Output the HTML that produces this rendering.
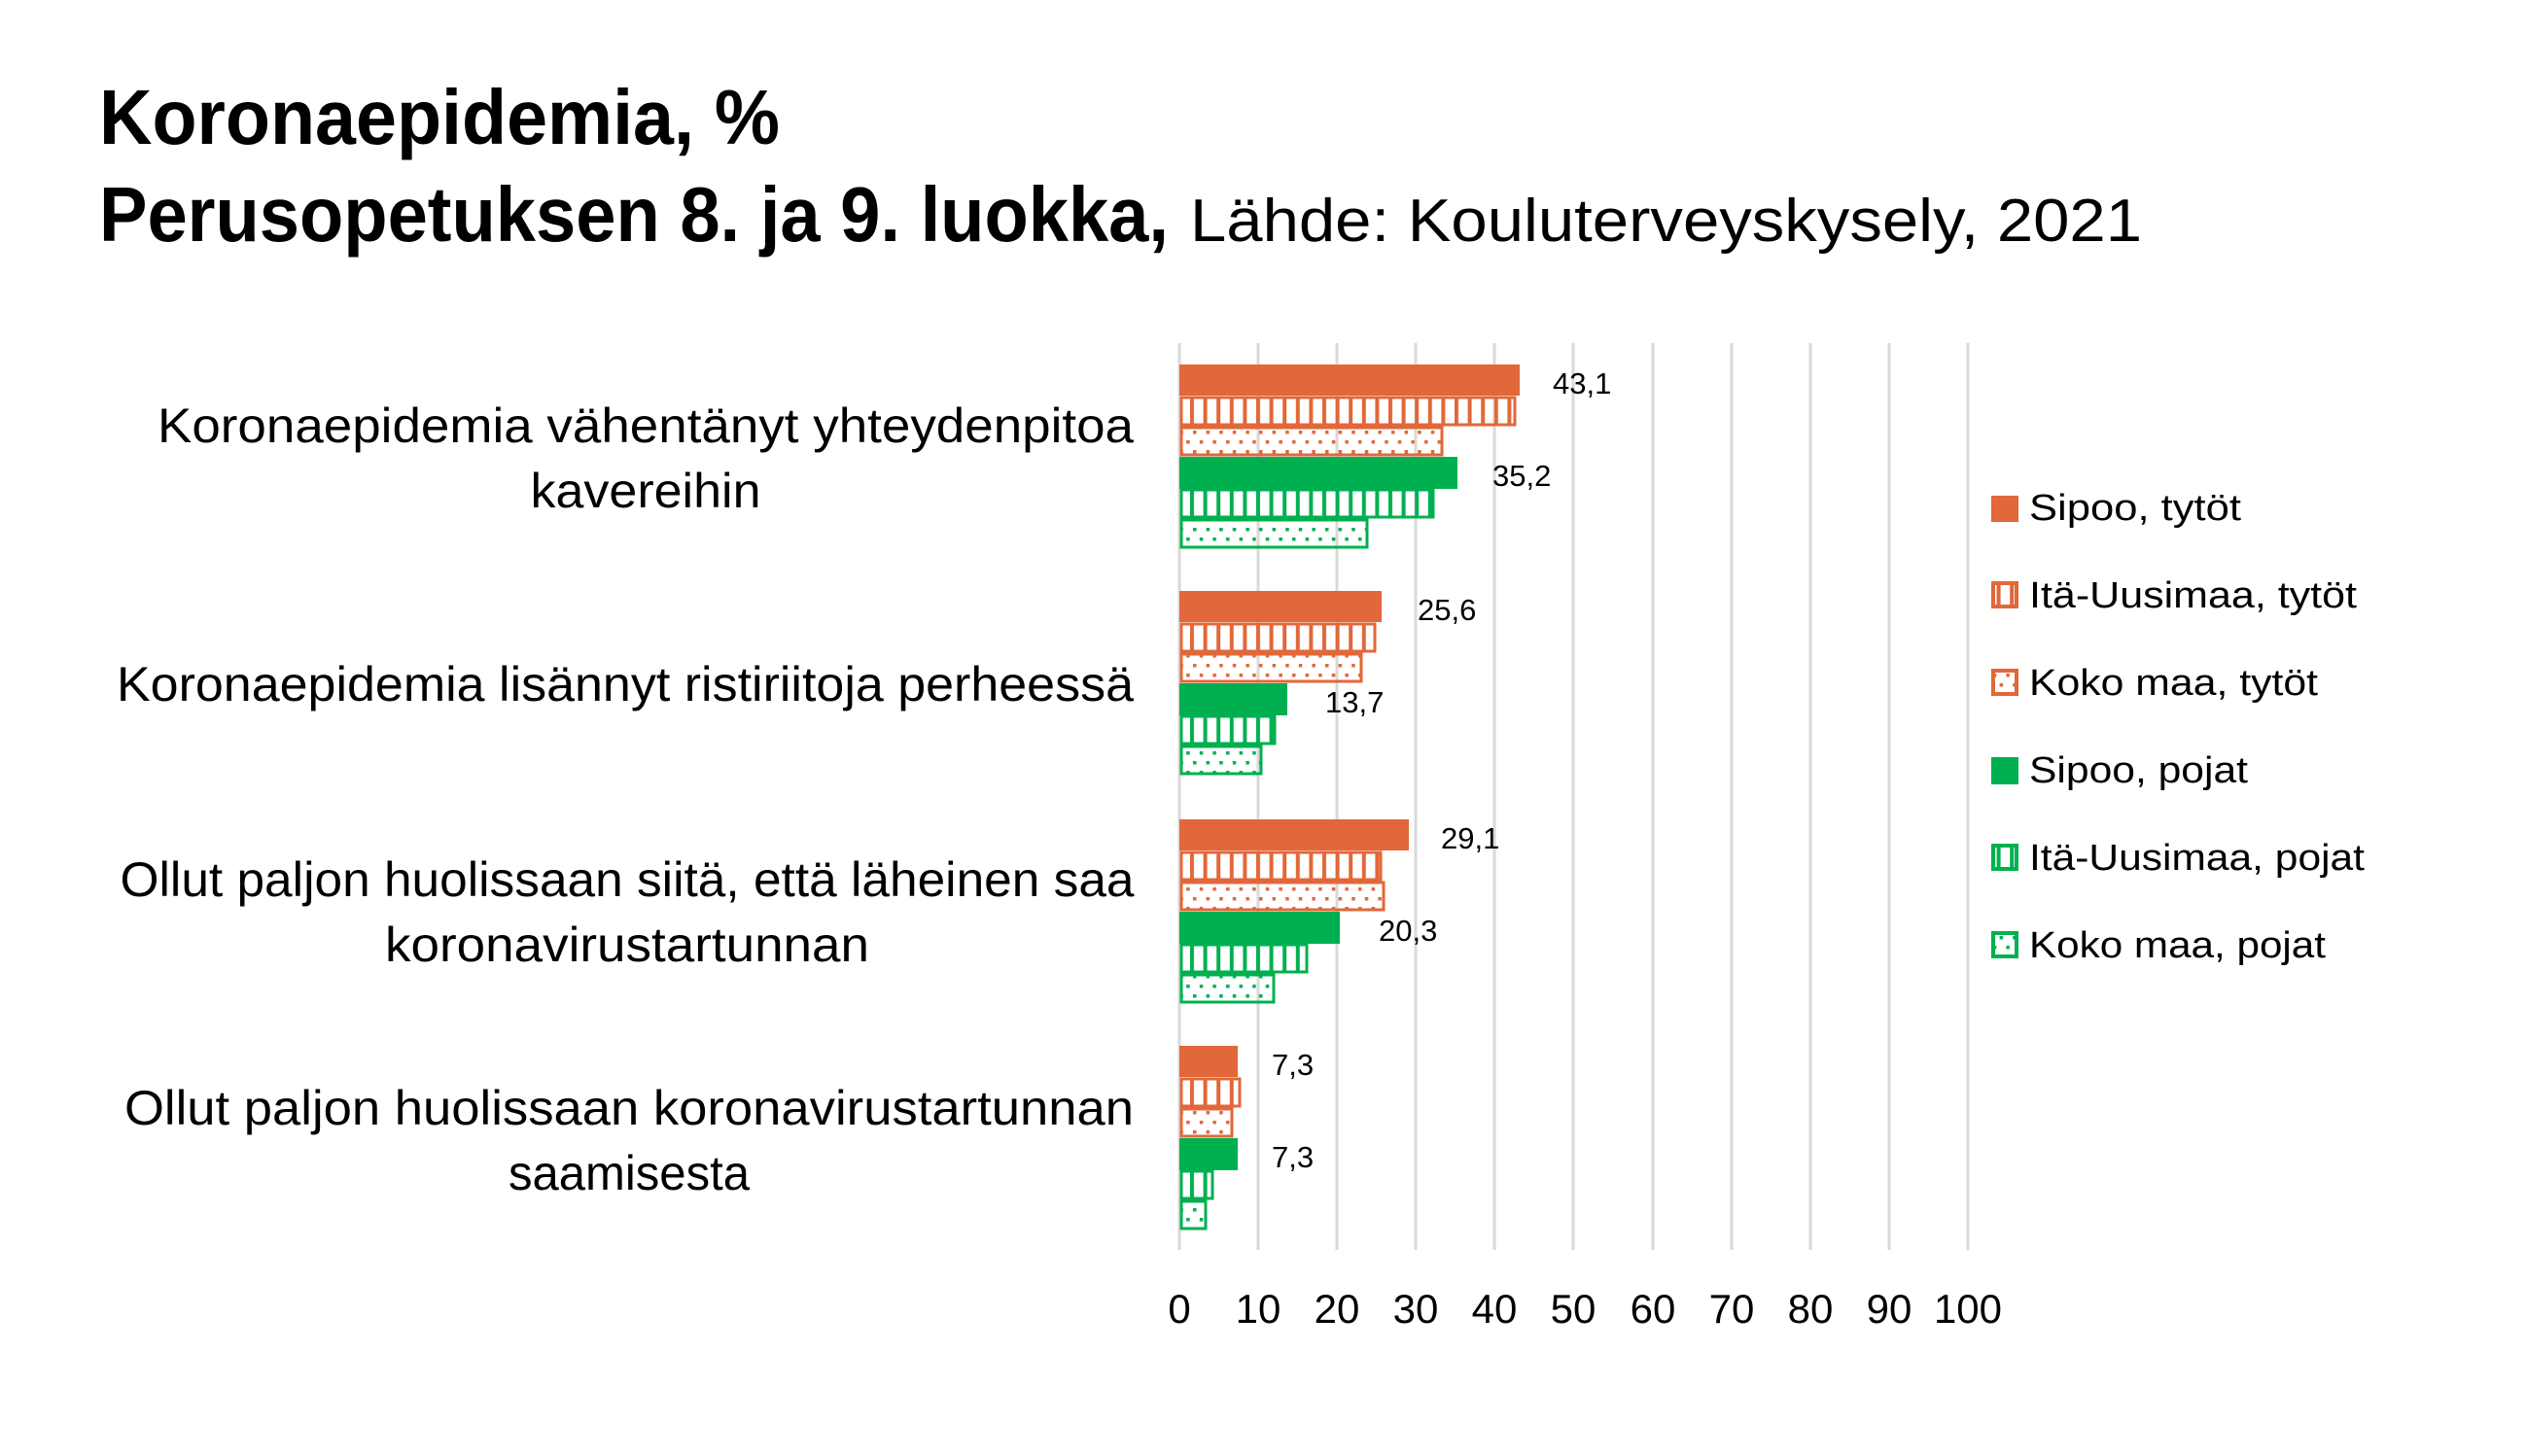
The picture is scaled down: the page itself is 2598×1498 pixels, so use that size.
<!DOCTYPE html>
<html><head><meta charset="utf-8"><style>html,body{margin:0;padding:0;background:#fff}</style></head>
<body>
<svg width="2598" height="1493" viewBox="0 0 2598 1493" xmlns="http://www.w3.org/2000/svg" font-family="Liberation Sans, sans-serif">
<defs>
<pattern id="vo" width="13.6" height="10" patternUnits="userSpaceOnUse"><rect x="0" y="0" width="4" height="10" fill="#E2673A"/></pattern>
<pattern id="vg" width="13.6" height="10" patternUnits="userSpaceOnUse"><rect x="0" y="0" width="4" height="10" fill="#00B050"/></pattern>
<pattern id="do" width="27.2" height="20" patternUnits="userSpaceOnUse"><rect x="3" y="3" width="3.5" height="3.5" fill="#E2673A"/><rect x="16.6" y="3" width="3.5" height="3.5" fill="#E2673A"/><rect x="9.8" y="13" width="3.5" height="3.5" fill="#E2673A"/><rect x="23.4" y="13" width="3.5" height="3.5" fill="#E2673A"/></pattern>
<pattern id="dg" width="27.2" height="20" patternUnits="userSpaceOnUse"><rect x="3" y="3" width="3.5" height="3.5" fill="#00B050"/><rect x="16.6" y="3" width="3.5" height="3.5" fill="#00B050"/><rect x="9.8" y="13" width="3.5" height="3.5" fill="#00B050"/><rect x="23.4" y="13" width="3.5" height="3.5" fill="#00B050"/></pattern>
</defs>
<rect width="2598" height="1493" fill="#fff"/>
<text x="102" y="148" font-size="80" font-weight="bold" textLength="700" lengthAdjust="spacingAndGlyphs">Koronaepidemia, %</text>
<text x="102" y="248" font-size="80" font-weight="bold" textLength="1100" lengthAdjust="spacingAndGlyphs">Perusopetuksen 8. ja 9. luokka,</text>
<text x="1224" y="248" font-size="62" textLength="979" lengthAdjust="spacingAndGlyphs">Lähde: Kouluterveyskysely, 2021</text>
<g stroke="#d9d9d9" stroke-width="3">
<line x1="1294" y1="353" x2="1294" y2="1286"/><line x1="1375" y1="353" x2="1375" y2="1286"/><line x1="1456" y1="353" x2="1456" y2="1286"/><line x1="1537" y1="353" x2="1537" y2="1286"/><line x1="1618" y1="353" x2="1618" y2="1286"/><line x1="1700" y1="353" x2="1700" y2="1286"/><line x1="1781" y1="353" x2="1781" y2="1286"/><line x1="1862" y1="353" x2="1862" y2="1286"/><line x1="1943" y1="353" x2="1943" y2="1286"/><line x1="2024" y1="353" x2="2024" y2="1286"/><line x1="1213" y1="353" x2="1213" y2="1286"/>
</g>
<g font-size="42" text-anchor="middle">
<text x="1213" y="1361">0</text><text x="1294" y="1361">10</text><text x="1375" y="1361">20</text><text x="1456" y="1361">30</text><text x="1537" y="1361">40</text><text x="1618" y="1361">50</text><text x="1700" y="1361">60</text><text x="1781" y="1361">70</text><text x="1862" y="1361">80</text><text x="1943" y="1361">90</text><text x="2024" y="1361">100</text>
</g>
<g id="bars">
<rect x="1213" y="375" width="350" height="32" fill="#E2673A"/>
<rect x="1215" y="409" width="343" height="28" fill="url(#vo)" stroke="#E2673A" stroke-width="3"/>
<rect x="1215" y="440" width="268" height="28" fill="url(#do)" stroke="#E2673A" stroke-width="3"/>
<rect x="1213" y="470" width="286" height="33" fill="#00B050"/>
<rect x="1215" y="504" width="259" height="28" fill="url(#vg)" stroke="#00B050" stroke-width="3"/>
<rect x="1215" y="535" width="191" height="28" fill="url(#dg)" stroke="#00B050" stroke-width="3"/>
<rect x="1213" y="608" width="208" height="32" fill="#E2673A"/>
<rect x="1215" y="642" width="199" height="28" fill="url(#vo)" stroke="#E2673A" stroke-width="3"/>
<rect x="1215" y="673" width="185" height="28" fill="url(#do)" stroke="#E2673A" stroke-width="3"/>
<rect x="1213" y="703" width="111" height="33" fill="#00B050"/>
<rect x="1215" y="737" width="96" height="28" fill="url(#vg)" stroke="#00B050" stroke-width="3"/>
<rect x="1215" y="768" width="82" height="28" fill="url(#dg)" stroke="#00B050" stroke-width="3"/>
<rect x="1213" y="843" width="236" height="32" fill="#E2673A"/>
<rect x="1215" y="877" width="205" height="28" fill="url(#vo)" stroke="#E2673A" stroke-width="3"/>
<rect x="1215" y="908" width="208" height="28" fill="url(#do)" stroke="#E2673A" stroke-width="3"/>
<rect x="1213" y="938" width="165" height="33" fill="#00B050"/>
<rect x="1215" y="972" width="129" height="28" fill="url(#vg)" stroke="#00B050" stroke-width="3"/>
<rect x="1215" y="1003" width="95" height="28" fill="url(#dg)" stroke="#00B050" stroke-width="3"/>
<rect x="1213" y="1076" width="60" height="32" fill="#E2673A"/>
<rect x="1215" y="1110" width="60" height="28" fill="url(#vo)" stroke="#E2673A" stroke-width="3"/>
<rect x="1215" y="1141" width="52" height="28" fill="url(#do)" stroke="#E2673A" stroke-width="3"/>
<rect x="1213" y="1171" width="60" height="33" fill="#00B050"/>
<rect x="1215" y="1205" width="32" height="28" fill="url(#vg)" stroke="#00B050" stroke-width="3"/>
<rect x="1215" y="1236" width="25" height="28" fill="url(#dg)" stroke="#00B050" stroke-width="3"/>
</g>
<g font-size="31">
<text x="1597" y="405">43,1</text><text x="1535" y="500">35,2</text>
<text x="1458" y="638">25,6</text><text x="1363" y="733">13,7</text>
<text x="1482" y="873">29,1</text><text x="1418" y="968">20,3</text>
<text x="1308" y="1106">7,3</text><text x="1308" y="1201">7,3</text>
</g>
<g font-size="50" text-anchor="middle">
<text x="664" y="455" textLength="1004" lengthAdjust="spacingAndGlyphs">Koronaepidemia vähentänyt yhteydenpitoa</text>
<text x="664" y="522" textLength="237" lengthAdjust="spacingAndGlyphs">kavereihin</text>
<text x="643" y="721" textLength="1046" lengthAdjust="spacingAndGlyphs">Koronaepidemia lisännyt ristiriitoja perheessä</text>
<text x="645" y="922" textLength="1043" lengthAdjust="spacingAndGlyphs">Ollut paljon huolissaan siitä, että läheinen saa</text>
<text x="645" y="989" textLength="498" lengthAdjust="spacingAndGlyphs">koronavirustartunnan</text>
<text x="647" y="1157" textLength="1038" lengthAdjust="spacingAndGlyphs">Ollut paljon huolissaan koronavirustartunnan</text>
<text x="647" y="1224" textLength="248" lengthAdjust="spacingAndGlyphs">saamisesta</text>
</g>
<g>
<rect x="2048" y="510" width="28" height="27" fill="#E2673A"/>
<rect x="2050" y="600" width="24" height="24" fill="url(#vo)" stroke="#E2673A" stroke-width="4"/>
<rect x="2050" y="690" width="24" height="24" fill="url(#do)" stroke="#E2673A" stroke-width="4"/>
<rect x="2048" y="779" width="28" height="28" fill="#00B050"/>
<rect x="2050" y="870" width="24" height="24" fill="url(#vg)" stroke="#00B050" stroke-width="4"/>
<rect x="2050" y="960" width="24" height="24" fill="url(#dg)" stroke="#00B050" stroke-width="4"/>
</g>
<g font-size="38">
<text x="2087" y="535" textLength="218" lengthAdjust="spacingAndGlyphs">Sipoo, tytöt</text>
<text x="2087" y="625" textLength="337" lengthAdjust="spacingAndGlyphs">Itä-Uusimaa, tytöt</text>
<text x="2087" y="715" textLength="297" lengthAdjust="spacingAndGlyphs">Koko maa, tytöt</text>
<text x="2087" y="805" textLength="225" lengthAdjust="spacingAndGlyphs">Sipoo, pojat</text>
<text x="2087" y="895" textLength="345" lengthAdjust="spacingAndGlyphs">Itä-Uusimaa, pojat</text>
<text x="2087" y="985" textLength="305" lengthAdjust="spacingAndGlyphs">Koko maa, pojat</text>
</g>
</svg>
</body></html>
